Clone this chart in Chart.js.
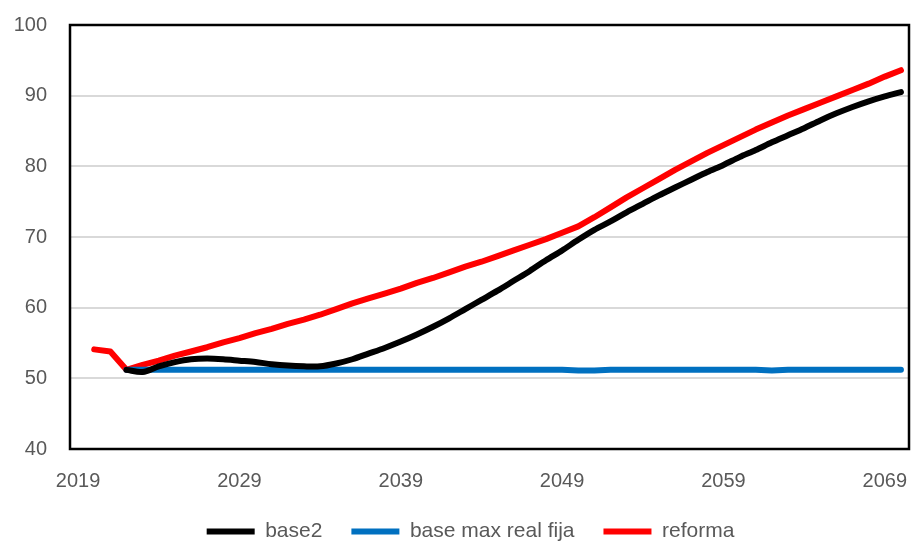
<!DOCTYPE html>
<html>
<head>
<meta charset="utf-8">
<script src="https://cdn.jsdelivr.net/npm/chart.js@4.4.1/dist/chart.umd.min.js"></script>
<style>
  html, body { margin: 0; padding: 0; background: #ffffff; }
  #wrap { width: 911px; height: 542px; position: relative; }
</style>
</head>
<body>
<div id="wrap"><canvas id="tasaChart"></canvas></div>
<script>
// años 2019..2070
const anios = [];
for (let a = 2019; a <= 2070; a++) anios.push(String(a));

const etiquetasEjeX = ['2019', '2029', '2039', '2049', '2059', '2069'];
const ticksEjeY = [40, 50, 60, 70, 80, 90, 100];

// base2 y base max real fija empiezan en 2022; antes solo hay reforma
const base2 = [
    null, null, null, 51.2, 50.9, 51.7, 52.3, 52.7, 52.8, 52.7,
    52.5, 52.3, 52.0, 51.8, 51.7, 51.7, 52.1, 52.7, 53.5, 54.3,
    55.2, 56.2, 57.3, 58.5, 59.8, 61.1, 62.4, 63.8, 65.2, 66.7,
    68.1, 69.6, 71.0, 72.2, 73.5, 74.7, 75.9, 77.0, 78.1, 79.2,
    80.2, 81.3, 82.3, 83.4, 84.4, 85.4, 86.5, 87.5, 88.4, 89.2,
    89.9, 90.5
];

const baseMaxRealFija = [
    null, null, null, 51.2, 51.2, 51.2, 51.2, 51.2, 51.2, 51.2,
    51.2, 51.2, 51.2, 51.2, 51.2, 51.2, 51.2, 51.2, 51.2, 51.2,
    51.2, 51.2, 51.2, 51.2, 51.2, 51.2, 51.2, 51.2, 51.2, 51.2,
    51.2, 51.1, 51.1, 51.2, 51.2, 51.2, 51.2, 51.2, 51.2, 51.2,
    51.2, 51.2, 51.2, 51.1, 51.2, 51.2, 51.2, 51.2, 51.2, 51.2,
    51.2, 51.2
];

const reforma = [
    null, 54.1, 53.8, 51.2, 51.9, 52.5, 53.2, 53.8, 54.4, 55.1,
    55.7, 56.4, 57.0, 57.7, 58.3, 59.0, 59.8, 60.6, 61.3, 62.0,
    62.7, 63.5, 64.2, 65.0, 65.8, 66.5, 67.3, 68.1, 68.9, 69.7,
    70.6, 71.5, 72.8, 74.2, 75.6, 76.9, 78.2, 79.5, 80.7, 81.9,
    83.0, 84.1, 85.2, 86.2, 87.2, 88.1, 89.0, 89.9, 90.8, 91.7,
    92.7, 93.6
];

const gris = '#595959';
const familia = '"Liberation Sans", Arial, sans-serif';
const fuente = { family: familia, size: 20 };

// marco negro alrededor del área de trazado
const marco = {
    id: 'marco',
    afterDraw(chart) {
        const { ctx, chartArea: a } = chart;
        ctx.save();
        ctx.strokeStyle = '#000000';
        ctx.lineWidth = 2.5;
        ctx.strokeRect(a.left, a.top, a.right - a.left, a.bottom - a.top);
        ctx.restore();
    }
};

// la leyenda va centrada bajo el área de trazado, no bajo todo el lienzo
const leyendaCentrada = {
    id: 'leyendaCentrada',
    afterLayout(chart) {
        const lg = chart.legend;
        if (!lg) return;
        const dx = 9;
        lg.left += dx;
        lg.right += dx;
    }
};

function serie(label, data, color, tension) {
    return {
        label,
        data,
        borderColor: color,
        backgroundColor: color,
        borderWidth: 6,
        pointRadius: 0,
        pointHoverRadius: 0,
        tension,
        borderCapStyle: 'round',
        borderJoinStyle: 'round',
        spanGaps: false
    };
}

new Chart(document.getElementById('tasaChart'), {
    type: 'line',
    data: {
        labels: anios,
        datasets: [
            serie('base2', base2, '#000000', 0.3),
            serie('base max real fija', baseMaxRealFija, '#0070C0', 0),
            serie('reforma', reforma, '#FF0000', 0)
        ]
    },
    options: {
        responsive: true,
        maintainAspectRatio: false,
        animation: false,
        layout: { padding: { left: 14, right: 2, top: 25, bottom: 0 } },
        plugins: {
            tooltip: { enabled: false },
            legend: {
                position: 'bottom',
                maxHeight: 50,
                labels: {
                    color: gris,
                    font: { family: familia, size: 21 },
                    boxWidth: 48,
                    boxHeight: 6,
                    padding: 29,
                    generateLabels(chart) {
                        return chart.data.datasets.map((ds, i) => ({
                            text: ds.label,
                            fillStyle: ds.borderColor,
                            strokeStyle: ds.borderColor,
                            lineWidth: 0,
                            fontColor: gris,
                            hidden: false,
                            datasetIndex: i
                        }));
                    }
                }
            }
        },
        scales: {
            x: {
                type: 'category',
                offset: true,
                grid: { display: false, drawTicks: false },
                border: { display: false },
                afterFit(scale) {
                    scale.height = 43;
                    scale.paddingLeft = 0;
                    scale.paddingRight = 0;
                },
                ticks: {
                    color: gris,
                    font: fuente,
                    autoSkip: false,
                    maxRotation: 0,
                    padding: 20,
                    callback(value) {
                        const lab = this.getLabelForValue(value);
                        return etiquetasEjeX.includes(lab) ? lab : '';
                    }
                }
            },
            y: {
                min: ticksEjeY[0],
                max: ticksEjeY[ticksEjeY.length - 1],
                afterBuildTicks(scale) {
                    scale.ticks = ticksEjeY.map(v => ({ value: v }));
                },
                afterFit(scale) {
                    scale.width = 56;
                    scale.paddingTop = 0;
                    scale.paddingBottom = 0;
                },
                grid: { color: '#d9d9d9', lineWidth: 2, drawTicks: false },
                border: { display: false },
                ticks: { color: gris, font: fuente, padding: 23 }
            }
        }
    },
    plugins: [marco, leyendaCentrada]
});
</script>
</body>
</html>
